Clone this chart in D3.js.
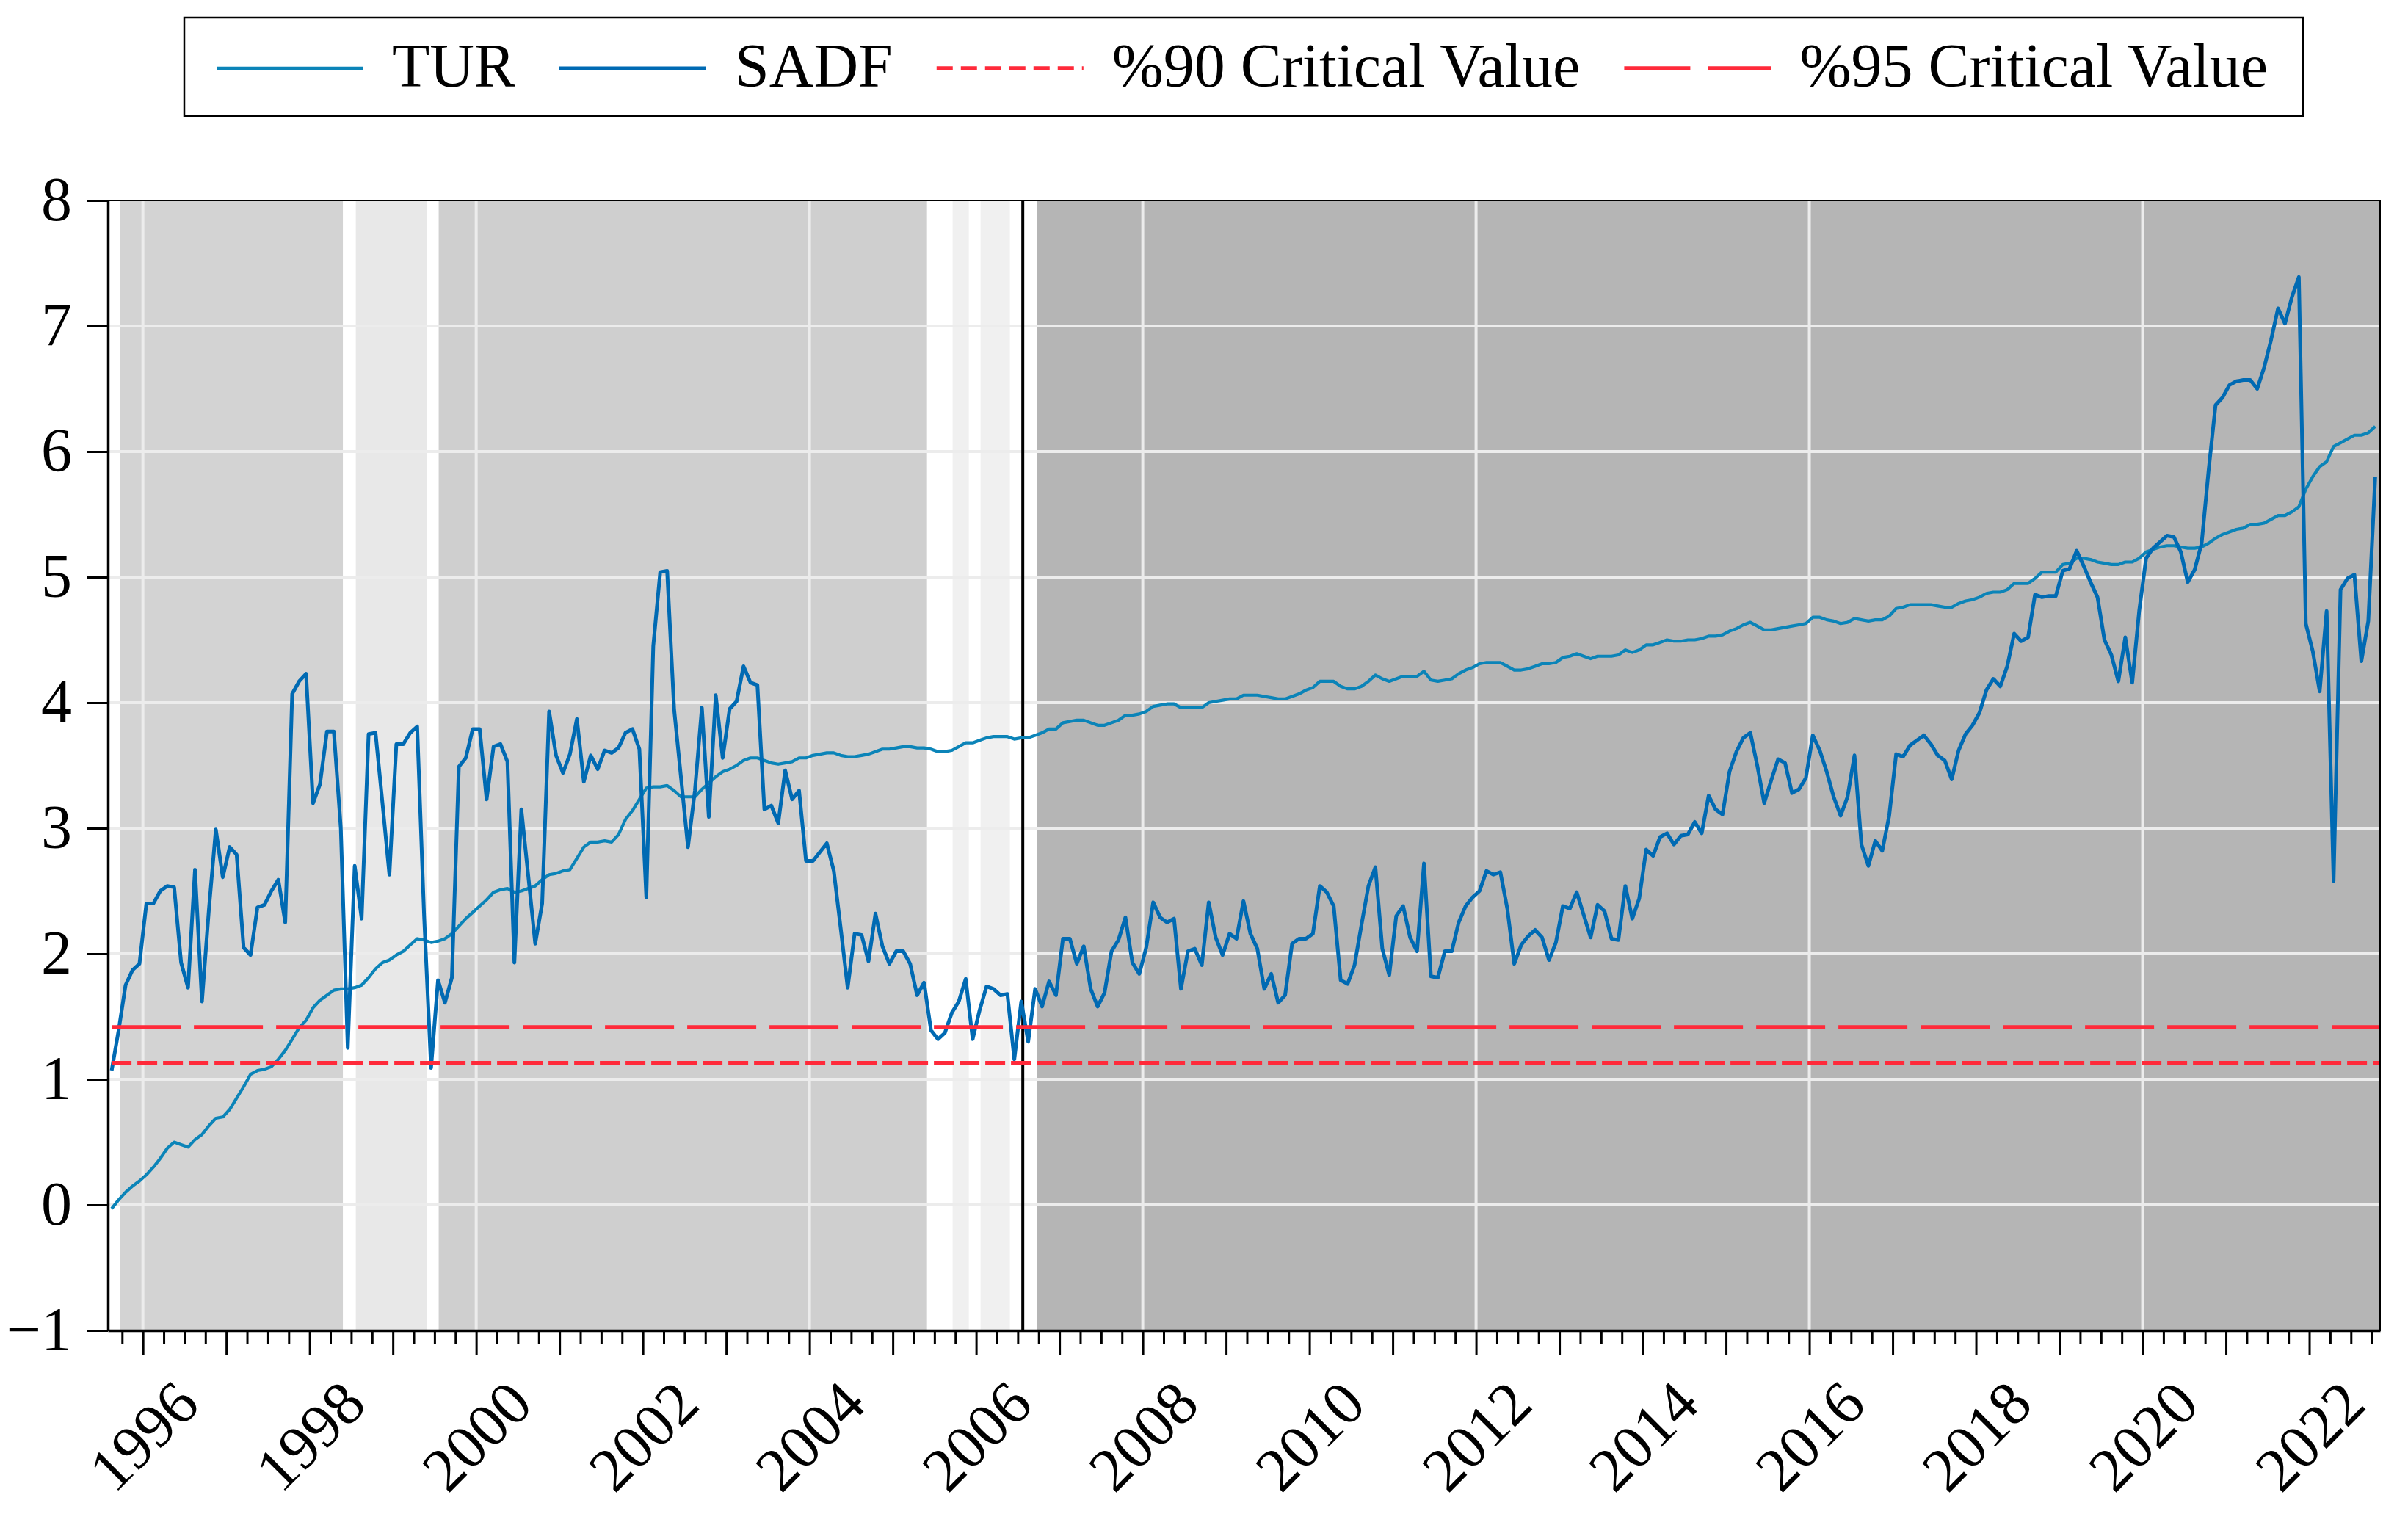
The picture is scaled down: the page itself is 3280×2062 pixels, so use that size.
<!DOCTYPE html>
<html lang="en">
<head>
<meta charset="UTF-8">
<title>TUR SADF</title>
<script src="https://cdn.jsdelivr.net/npm/d3@7/dist/d3.min.js"></script>
<style>
body { margin: 0; background: #fff; }
text { font-family: "Liberation Serif", "Times New Roman", serif; }
</style>
</head>
<body>
<script>
// monthly observations, first one is 1995M08
var firstYear = 1995, firstMonth = 8;

var tur = [
  -0.03, 0.04, 0.10, 0.15, 0.19,
  0.24, 0.30, 0.37, 0.45, 0.50, 0.48, 0.46, 0.52, 0.56, 0.63, 0.69, 0.70,
  0.76, 0.85, 0.94, 1.04, 1.07, 1.08, 1.10, 1.16, 1.23, 1.32, 1.41, 1.47,
  1.57, 1.63, 1.67, 1.71, 1.72, 1.72, 1.73, 1.75, 1.81, 1.88, 1.93, 1.95,
  1.99, 2.02, 2.07, 2.12, 2.11, 2.09, 2.10, 2.12, 2.16, 2.22, 2.28, 2.33,
  2.38, 2.43, 2.49, 2.51, 2.52, 2.49, 2.50, 2.52, 2.54, 2.59, 2.63, 2.64,
  2.66, 2.67, 2.76, 2.85, 2.89, 2.89, 2.90, 2.89, 2.95, 3.07, 3.14, 3.23,
  3.32, 3.33, 3.33, 3.34, 3.30, 3.25, 3.25, 3.25, 3.31, 3.36, 3.41, 3.45,
  3.47, 3.50, 3.54, 3.56, 3.56, 3.54, 3.52, 3.51, 3.52, 3.53, 3.56, 3.56,
  3.58, 3.59, 3.60, 3.60, 3.58, 3.57, 3.57, 3.58, 3.59, 3.61, 3.63, 3.63,
  3.64, 3.65, 3.65, 3.64, 3.64, 3.63, 3.61, 3.61, 3.62, 3.65, 3.68, 3.68,
  3.70, 3.72, 3.73, 3.73, 3.73, 3.71, 3.72, 3.72, 3.74, 3.76, 3.79, 3.79,
  3.84, 3.85, 3.86, 3.86, 3.84, 3.82, 3.82, 3.84, 3.86, 3.90, 3.90, 3.91,
  3.93, 3.97, 3.98, 3.99, 3.99, 3.96, 3.96, 3.96, 3.96, 4.00, 4.01, 4.02,
  4.03, 4.03, 4.06, 4.06, 4.06, 4.05, 4.04, 4.03, 4.03, 4.05, 4.07, 4.10,
  4.12, 4.17, 4.17, 4.17, 4.13, 4.11, 4.11, 4.13, 4.17, 4.22, 4.19, 4.17,
  4.19, 4.21, 4.21, 4.21, 4.25, 4.18, 4.17, 4.18, 4.19, 4.23, 4.26, 4.28,
  4.31, 4.32, 4.32, 4.32, 4.29, 4.26, 4.26, 4.27, 4.29, 4.31, 4.31, 4.32,
  4.36, 4.37, 4.39, 4.37, 4.35, 4.37, 4.37, 4.37, 4.38, 4.42, 4.40, 4.42,
  4.46, 4.46, 4.48, 4.50, 4.49, 4.49, 4.50, 4.50, 4.51, 4.53, 4.53, 4.54,
  4.57, 4.59, 4.62, 4.64, 4.61, 4.58, 4.58, 4.59, 4.60, 4.61, 4.62, 4.63,
  4.68, 4.68, 4.66, 4.65, 4.63, 4.64, 4.67, 4.66, 4.65, 4.66, 4.66, 4.69,
  4.75, 4.76, 4.78, 4.78, 4.78, 4.78, 4.77, 4.76, 4.76, 4.79, 4.81, 4.82,
  4.84, 4.87, 4.88, 4.88, 4.90, 4.95, 4.95, 4.95, 4.99, 5.04, 5.04, 5.04,
  5.10, 5.11, 5.15, 5.15, 5.14, 5.12, 5.11, 5.10, 5.10, 5.12, 5.12, 5.15,
  5.20, 5.22, 5.24, 5.25, 5.25, 5.24, 5.23, 5.23, 5.24, 5.27, 5.31, 5.34,
  5.36, 5.38, 5.39, 5.42, 5.42, 5.43, 5.46, 5.49, 5.49, 5.52, 5.56, 5.70,
  5.80, 5.88, 5.92, 6.04, 6.07, 6.10, 6.13, 6.13, 6.15, 6.20
];

var sadf = [
  1.07, 1.39, 1.75, 1.87, 1.92,
  2.40, 2.40, 2.50, 2.54, 2.53, 1.93, 1.73, 2.67, 1.62, 2.35, 2.99, 2.61,
  2.85, 2.79, 2.05, 1.99, 2.37, 2.39, 2.50, 2.59, 2.25, 4.07, 4.17, 4.23,
  3.20, 3.35, 3.77, 3.77, 3.00, 1.25, 2.70, 2.28, 3.75, 3.76, 3.20, 2.63,
  3.67, 3.67, 3.76, 3.81, 2.30, 1.09, 1.79, 1.61, 1.81, 3.49, 3.56, 3.79,
  3.79, 3.23, 3.65, 3.67, 3.53, 1.93, 3.15, 2.62, 2.08, 2.40, 3.93, 3.58,
  3.44, 3.59, 3.87, 3.37, 3.58, 3.47, 3.62, 3.60, 3.64, 3.76, 3.79, 3.63,
  2.45, 4.45, 5.04, 5.05, 3.95, 3.40, 2.85, 3.30, 3.96, 3.09, 4.06, 3.56,
  3.95, 4.01, 4.29, 4.16, 4.14, 3.15, 3.18, 3.04, 3.46, 3.23, 3.30, 2.74,
  2.74, 2.81, 2.88, 2.66, 2.20, 1.73, 2.16, 2.15, 1.94, 2.32, 2.06, 1.92,
  2.02, 2.02, 1.92, 1.67, 1.77, 1.39, 1.32, 1.37, 1.53, 1.62, 1.80, 1.32,
  1.55, 1.74, 1.72, 1.67, 1.68, 1.16, 1.62, 1.30, 1.72, 1.58, 1.78, 1.67,
  2.12, 2.12, 1.92, 2.06, 1.72, 1.58, 1.69, 2.02, 2.11, 2.29, 1.93, 1.84,
  2.05, 2.41, 2.29, 2.25, 2.28, 1.72, 2.02, 2.04, 1.91, 2.41, 2.13, 1.99,
  2.16, 2.12, 2.42, 2.16, 2.04, 1.72, 1.84, 1.61, 1.67, 2.08, 2.12, 2.12,
  2.16, 2.54, 2.49, 2.38, 1.79, 1.76, 1.91, 2.23, 2.54, 2.69, 2.04, 1.83,
  2.30, 2.38, 2.13, 2.02, 2.72, 1.82, 1.81, 2.02, 2.02, 2.25, 2.38, 2.45,
  2.50, 2.66, 2.63, 2.65, 2.36, 1.92, 2.07, 2.14, 2.19, 2.13, 1.95, 2.09,
  2.38, 2.36, 2.49, 2.31, 2.13, 2.39, 2.34, 2.12, 2.11, 2.54, 2.28, 2.44,
  2.83, 2.78, 2.93, 2.96, 2.87, 2.94, 2.95, 3.05, 2.96, 3.26, 3.15, 3.11,
  3.45, 3.61, 3.72, 3.76, 3.50, 3.20, 3.38, 3.55, 3.52, 3.28, 3.31, 3.40,
  3.74, 3.62, 3.45, 3.25, 3.10, 3.25, 3.58, 2.87, 2.70, 2.90, 2.82, 3.10,
  3.59, 3.57, 3.66, 3.70, 3.74, 3.67, 3.58, 3.54, 3.39, 3.62, 3.75, 3.82,
  3.92, 4.10, 4.19, 4.13, 4.29, 4.55, 4.49, 4.52, 4.86, 4.84, 4.85, 4.85,
  5.05, 5.07, 5.21, 5.09, 4.96, 4.84, 4.50, 4.38, 4.17, 4.52, 4.16, 4.73,
  5.15, 5.23, 5.28, 5.33, 5.32, 5.20, 4.96, 5.06, 5.27, 5.85, 6.37, 6.43,
  6.53, 6.56, 6.57, 6.57, 6.50, 6.67, 6.89, 7.14, 7.02, 7.23, 7.39, 4.63,
  4.41, 4.09, 4.73, 2.58, 4.90, 4.99, 5.02, 4.33, 4.65, 5.80
];

var critNames = ["%90 Critical Value", "%95 Critical Value"];
var critValues = [1.13, 1.415];

// shaded periods (decimal years) and their shade class
var bandStart = [1995.73, 1998.555, 1999.55, 2005.718, 2006.053, 2006.73];
var bandEnd   = [1998.40, 1999.41, 2005.41, 2005.912, 2006.405, 2022.85];
var bandClass = ["a", "b", "c", "d", "d", "e"];
var breakDate = [2006.56];

var yTicks = [-1, 0, 1, 2, 3, 4, 5, 6, 7, 8];
var xLabelYears = [1996, 1998, 2000, 2002, 2004, 2006, 2008, 2010, 2012, 2014, 2016, 2018, 2020, 2022];
var gridYears = [1996, 2000, 2004, 2008, 2012, 2016, 2020];

var W = 3280, H = 2062;
var pLeft = 147, pRight = 3242, pTop = 273, pBottom = 1812;
var colTur = "#0b84b8", colSadf = "#006ab3", colRed = "#ff2a3a";

var svg = d3.select("body").append("svg").attr("width", W).attr("height", H);

var x = d3.scaleLinear().domain([1995.58, 2022.85]).range([pLeft, pRight]);
var y = d3.scaleLinear().domain([-1, 8]).range([pBottom, pTop]);
var shade = d3.scaleOrdinal().domain(["a", "b", "c", "d", "e"])
  .range(["#d3d3d3", "#e8e8e8", "#cfcfcf", "#f0f0f0", "#b5b5b5"]);

var dates = tur.map(function(d, i) { return firstYear + (firstMonth - 1) / 12 + i / 12 + 1 / 24; });

svg.append("clipPath").attr("id", "clip").append("rect")
  .attr("x", pLeft).attr("y", pTop).attr("width", pRight - pLeft).attr("height", pBottom - pTop);

var plot = svg.append("g").attr("clip-path", "url(#clip)");

plot.selectAll("rect.band").data(bandStart).enter().append("rect")
  .attr("class", "band")
  .attr("x", function(d) { return x(d); })
  .attr("width", function(d, i) { return x(bandEnd[i]) - x(d); })
  .attr("y", pTop).attr("height", pBottom - pTop)
  .attr("fill", function(d, i) { return shade(bandClass[i]); });

plot.selectAll("line.hgrid").data(yTicks.filter(function(v) { return v > -1 && v < 8; })).enter().append("line")
  .attr("class", "hgrid")
  .attr("x1", pLeft).attr("x2", pRight)
  .attr("y1", function(d) { return y(d); }).attr("y2", function(d) { return y(d); })
  .attr("stroke", "#ececec").attr("stroke-width", 4);

plot.selectAll("line.vgrid").data(gridYears).enter().append("line")
  .attr("class", "vgrid")
  .attr("x1", function(d) { return x(d); }).attr("x2", function(d) { return x(d); })
  .attr("y1", pTop).attr("y2", pBottom)
  .attr("stroke", "#ececec").attr("stroke-width", 4);

plot.selectAll("line.brk").data(breakDate).enter().append("line")
  .attr("class", "brk")
  .attr("x1", function(d) { return x(d); }).attr("x2", function(d) { return x(d); })
  .attr("y1", pTop).attr("y2", pBottom)
  .attr("stroke", "#000").attr("stroke-width", 4);

var line = d3.line().x(function(d, i) { return x(dates[i]); }).y(function(d) { return y(d); });

plot.append("path").datum(tur).attr("d", line)
  .attr("fill", "none").attr("stroke", colTur).attr("stroke-width", 4.2).attr("stroke-linejoin", "round");
plot.append("path").datum(sadf).attr("d", line)
  .attr("fill", "none").attr("stroke", colSadf).attr("stroke-width", 5).attr("stroke-linejoin", "round");

var dashes = ["27,8", "94,18"];
plot.selectAll("line.crit").data(critValues).enter().append("line")
  .attr("class", "crit")
  .attr("x1", x(dates[0])).attr("x2", pRight)
  .attr("y1", function(d) { return y(d); }).attr("y2", function(d) { return y(d); })
  .attr("stroke", colRed).attr("stroke-width", 5.5)
  .attr("stroke-dasharray", function(d, i) { return dashes[i]; });

// frame
svg.append("rect").attr("x", pLeft).attr("y", pTop).attr("width", pRight - pLeft).attr("height", pBottom - pTop)
  .attr("fill", "none").attr("stroke", "#000").attr("stroke-width", 2);

// y axis
var yAxis = svg.append("g").attr("transform", "translate(" + pLeft + ",0)")
  .call(d3.axisLeft(y).tickValues(yTicks).tickSize(29).tickSizeOuter(0).tickPadding(20).tickFormat(d3.format("d")));
yAxis.select(".domain").attr("stroke-width", 3.5);
yAxis.selectAll(".tick line").attr("stroke-width", 3);
yAxis.selectAll("text").attr("font-size", 84).attr("fill", "#000")
  .attr("font-family", "'Liberation Serif','Times New Roman',serif");

// x axis: quarterly minor ticks, yearly major ticks, labels every two years
var quarterTicks = d3.range(1995.75, 2022.8, 0.25).filter(function(d) { return d % 1 !== 0; });
var yearTicks = d3.range(1996, 2023);
var xMinor = svg.append("g").attr("transform", "translate(0," + pBottom + ")")
  .call(d3.axisBottom(x).tickValues(quarterTicks).tickSize(18).tickSizeOuter(0).tickFormat(""));
xMinor.select(".domain").remove();
xMinor.selectAll(".tick line").attr("stroke-width", 3);

var xMajor = svg.append("g").attr("transform", "translate(0," + pBottom + ")")
  .call(d3.axisBottom(x).tickValues(yearTicks).tickSize(33).tickSizeOuter(0).tickFormat(""));
xMajor.select(".domain").attr("stroke-width", 3.5);
xMajor.selectAll(".tick line").attr("stroke-width", 3);

svg.append("g").selectAll("text").data(xLabelYears).enter().append("text")
  .attr("transform", function(d) { return "translate(" + x(d) + "," + 1955 + ") rotate(-45)"; })
  .attr("text-anchor", "middle").attr("dy", "0.35em")
  .attr("font-size", 84).text(function(d) { return d; });

// legend
var legend = svg.append("g");
legend.append("rect").attr("x", 251).attr("y", 24).attr("width", 2886).attr("height", 134)
  .attr("fill", "#fff").attr("stroke", "#000").attr("stroke-width", 2.5);

var legNames = ["TUR", "SADF"].concat(critNames);
var legColors = [colTur, colSadf, colRed, colRed];
var legWidths = [4.5, 5, 5.5, 5.5];
var legDash = [null, null, "22,11", "90,24"];
var cx = 295;
legNames.forEach(function(name, i) {
  legend.append("line").attr("x1", cx).attr("x2", cx + 200).attr("y1", 93).attr("y2", 93)
    .attr("stroke", legColors[i]).attr("stroke-width", legWidths[i])
    .attr("stroke-dasharray", legDash[i]);
  var t = legend.append("text").attr("x", cx + 239).attr("y", 118).attr("font-size", 84).text(name);
  cx = cx + 239 + t.node().getComputedTextLength() + 60;
});
</script>
</body>
</html>
